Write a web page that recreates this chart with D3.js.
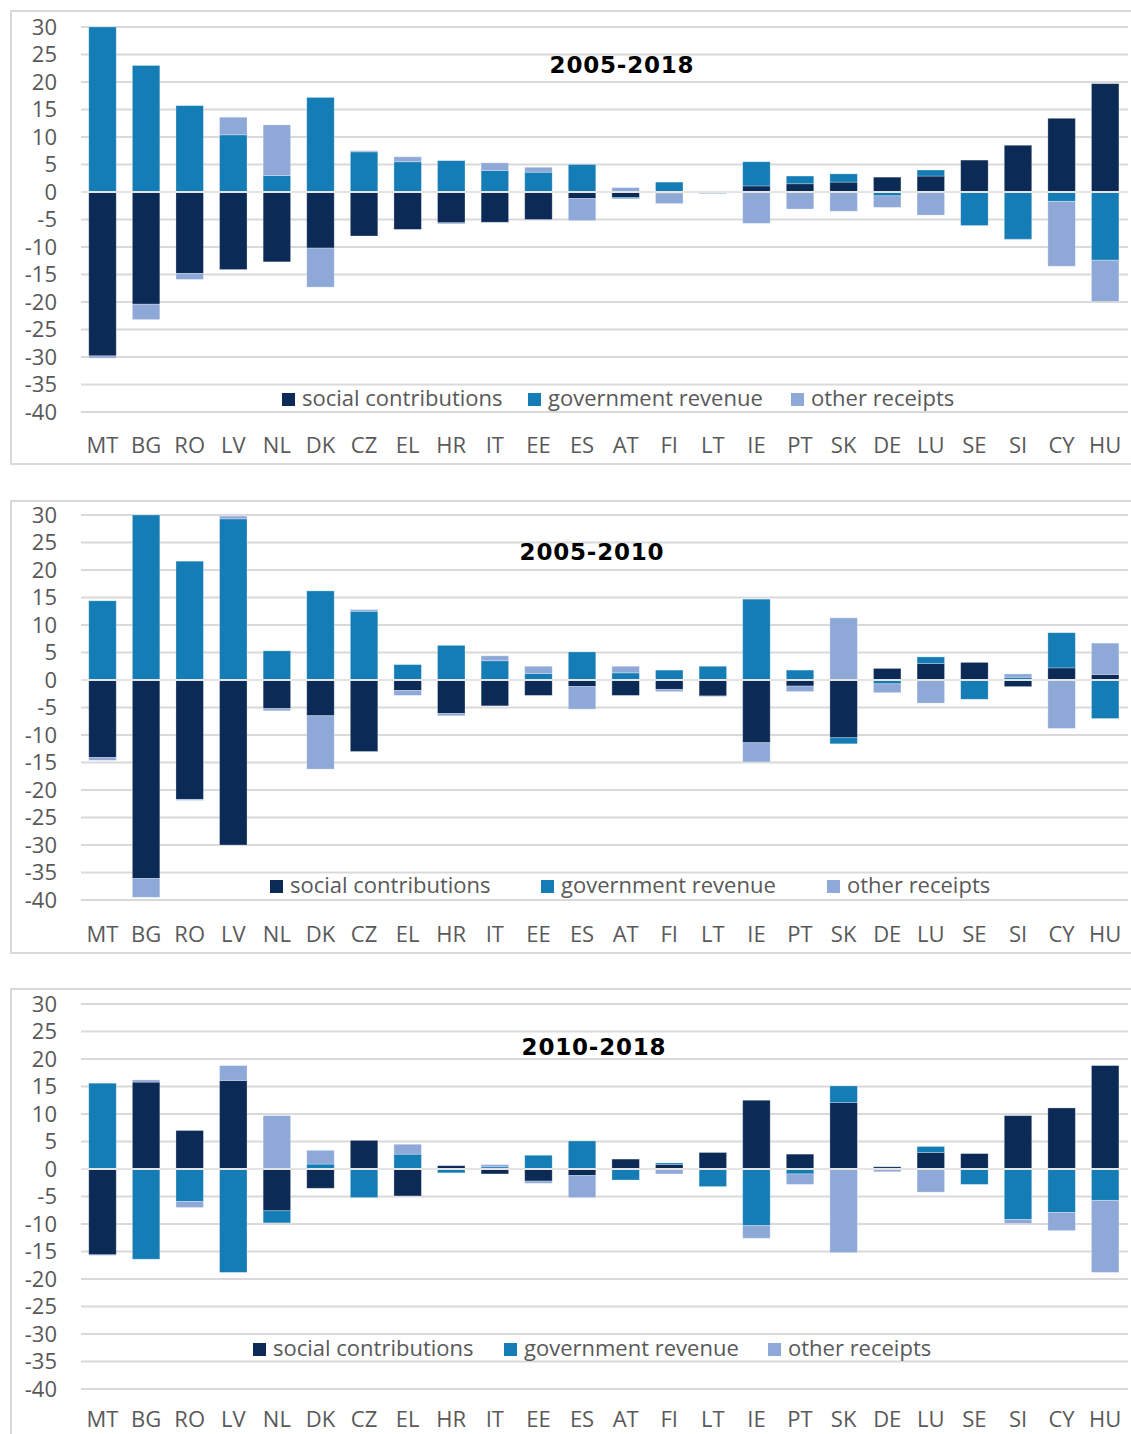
<!DOCTYPE html>
<html>
<head>
<meta charset="utf-8">
<script src="https://cdn.jsdelivr.net/npm/d3@7"></script>
<style>
  html, body { margin: 0; padding: 0; background: #ffffff; }
  svg { display: block; }
</style>
</head>
<body>
<script>
// ---------- DATA ----------
const categories = ["MT","BG","RO","LV","NL","DK","CZ","EL","HR","IT","EE","ES","AT","FI","LT","IE","PT","SK","DE","LU","SE","SI","CY","HU"];
const seriesNames = ["social contributions", "government revenue", "other receipts"];
const yTicks = [30,25,20,15,10,5,0,-5,-10,-15,-20,-25,-30,-35,-40];
const panelTitles = ["2005-2018", "2005-2010", "2010-2018"];

// 2005-2018
const social1 = [-29.8,-20.4,-14.8,-14.1,-12.7,-10.2,-8.0,-6.8,-5.6,-5.5,-5.0,-1.2,-1.0,-0.3,0,1.1,1.5,1.8,2.7,2.9,5.8,8.5,13.4,19.7];
const gov1    = [30.0,23.0,15.7,10.4,3.0,17.2,7.3,5.5,5.7,3.9,3.6,5.0,-0.2,1.8,0,4.4,1.4,1.5,-0.7,1.1,-6.1,-8.6,-1.7,-12.4];
const other1  = [-0.4,-2.8,-1.1,3.2,9.2,-7.1,0.2,0.9,-0.2,1.4,0.9,-4.0,0.8,-1.8,-0.3,-5.7,-3.1,-3.5,-2.1,-4.2,0,-0.1,-11.8,-7.5];

// 2005-2010
const social2 = [-14.1,-36.1,-21.7,-30.0,-5.2,-6.5,-13.0,-1.9,-6.1,-4.7,-2.8,-1.2,-2.8,-1.7,-2.9,-11.4,-1.1,-10.5,2.1,3.0,3.2,-1.2,2.2,1.0];
const gov2    = [14.4,30.0,21.6,29.3,5.3,16.2,12.5,2.8,6.3,3.5,1.2,5.1,1.3,1.8,2.5,14.7,1.8,-1.1,-0.7,1.2,-3.5,0.5,6.4,-7.0];
const other2  = [-0.5,-3.4,-0.2,0.5,-0.4,-9.7,0.3,-0.9,-0.4,0.9,1.3,-4.1,1.2,-0.4,-0.1,-3.5,-1.0,11.3,-1.6,-4.2,0,0.6,-8.8,5.7];

// 2010-2018
const social3 = [-15.6,15.8,7.0,16.1,-7.6,-3.5,5.2,-4.9,0.6,-0.9,-2.2,-1.2,1.8,0.8,3.0,12.5,2.7,12.1,0.4,3.0,2.8,9.7,11.1,18.8];
const gov3    = [15.6,-16.4,-5.9,-18.8,-2.2,0.9,-5.2,2.7,-0.7,0.4,2.5,5.1,-2.0,0.3,-3.2,-10.3,-0.9,3.0,0,1.1,-2.8,-9.2,-7.9,-5.7];
const other3  = [-0.1,0.4,-1.1,2.7,9.7,2.5,0,1.8,0,0.4,-0.4,-4.0,0,-0.9,0,-2.3,-1.9,-15.2,-0.5,-4.2,0,-0.7,-3.3,-13.1];

const panelData = [
  [social1, gov1, other1],
  [social2, gov2, other2],
  [social3, gov3, other3]
];

// ---------- STYLE / LAYOUT ----------
const colors = ["#0b2a55", "#157db5", "#8ea8d8"];
const gridColor = "#d9d9d9";
const textColor = "#595959";
const W = 1131, H = 1434;

const layout = [
  { frameTop: 11,  frameBottom: 464,  zeroY: 192,  titleX: 622, titleY: 73,   legendY: 406,  legendX: [282, 528, 791], labelY: 453 },
  { frameTop: 501, frameBottom: 953,  zeroY: 680,  titleX: 592, titleY: 560,  legendY: 893,  legendX: [270, 541, 827], labelY: 942 },
  { frameTop: 989, frameBottom: 1460, zeroY: 1169, titleX: 594, titleY: 1055, legendY: 1356, legendX: [253, 504, 768], labelY: 1427 }
];

const svg = d3.select("body").append("svg").attr("width", W).attr("height", H);

const x = d3.scaleBand().domain(categories).range([80.7, 1127]).paddingInner(0.37).paddingOuter(0.185);

layout.forEach((L, pi) => {
  const g = svg.append("g");
  const y = d3.scaleLinear().domain([-40, 30]).range([L.zeroY + 220, L.zeroY - 165]);

  // frame
  g.append("rect")
    .attr("x", 11).attr("y", L.frameTop)
    .attr("width", 1140).attr("height", L.frameBottom - L.frameTop)
    .attr("fill", "none").attr("stroke", gridColor).attr("stroke-width", 2);

  // gridlines
  g.append("g").selectAll("line").data(yTicks).join("line")
    .attr("x1", 81).attr("x2", 1128)
    .attr("y1", d => y(d)).attr("y2", d => y(d))
    .attr("stroke", gridColor).attr("stroke-width", 2);

  // y tick labels
  g.append("g").selectAll("text").data(yTicks).join("text")
    .attr("x", 57).attr("y", d => y(d))
    .attr("dy", "0.36em")
    .attr("text-anchor", "end")
    .attr("font-family", "'Open Sans', sans-serif")
    .attr("font-size", 22)
    .attr("fill", textColor)
    .text(d => d);

  // stacked bars
  const rows = categories.map((c, i) => {
    const r = { cat: c };
    seriesNames.forEach((s, si) => r[s] = panelData[pi][si][i]);
    return r;
  });
  const stack = d3.stack().keys(seriesNames).offset(d3.stackOffsetDiverging);
  const stacked = stack(rows);

  g.append("g").selectAll("g").data(stacked).join("g")
    .attr("fill", (d, i) => colors[i])
    .selectAll("rect").data(d => d).join("rect")
    .attr("x", d => x(d.data.cat))
    .attr("width", x.bandwidth())
    .attr("y", d => y(Math.max(d[0], d[1])))
    .attr("height", d => Math.abs(y(d[0]) - y(d[1])))
    .attr("stroke", "#ffffff").attr("stroke-opacity", 0.35).attr("stroke-width", 0.8);

  // zero line over bars
  g.append("line")
    .attr("x1", 81).attr("x2", 1128)
    .attr("y1", y(0)).attr("y2", y(0))
    .attr("stroke", "#e4e4e4").attr("stroke-width", 2);

  // category labels
  g.append("g").selectAll("text").data(categories).join("text")
    .attr("x", d => x(d) + x.bandwidth() / 2)
    .attr("y", L.labelY)
    .attr("text-anchor", "middle")
    .attr("font-family", "'Open Sans', sans-serif")
    .attr("font-size", 22)
    .attr("fill", textColor)
    .text(d => d);

  // title
  g.append("text")
    .attr("x", L.titleX).attr("y", L.titleY)
    .attr("text-anchor", "middle")
    .attr("font-family", "'DejaVu Sans', sans-serif")
    .attr("font-weight", "bold")
    .attr("font-size", 23)
    .attr("letter-spacing", "0.8px")
    .attr("fill", "#000000")
    .text(panelTitles[pi]);

  // legend
  const lg = g.append("g");
  seriesNames.forEach((s, si) => {
    lg.append("rect")
      .attr("x", L.legendX[si]).attr("y", L.legendY - 13)
      .attr("width", 13).attr("height", 13)
      .attr("fill", colors[si]);
    lg.append("text")
      .attr("x", L.legendX[si] + 20).attr("y", L.legendY)
      .attr("font-family", "'Open Sans', sans-serif")
      .attr("font-size", 22)
      .attr("fill", textColor)
      .text(s);
  });
});
</script>
</body>
</html>
